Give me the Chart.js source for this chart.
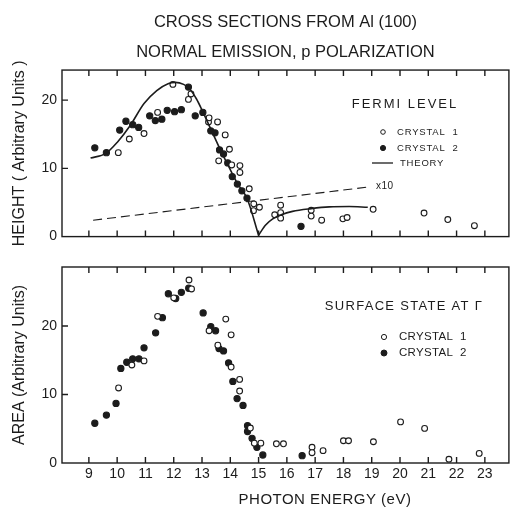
<!DOCTYPE html>
<html><head><meta charset="utf-8">
<script src="https://cdn.jsdelivr.net/npm/chart.js@4.4.0/dist/chart.umd.min.js"></script>
<style>
html,body{margin:0;padding:0;background:#fff;}
#wrap{position:relative;width:514px;height:510px;overflow:hidden;background:#fff;}
#c1{position:absolute;left:0;top:0;}
#c2{position:absolute;left:0;top:250px;}
</style></head><body>
<div id="wrap"><canvas id="c1" width="514" height="250"></canvas><canvas id="c2" width="514" height="260"></canvas></div>
<script>
// ---------- data ----------
const energyTicks = [9,10,11,12,13,14,15,16,17,18,19,20,21,22,23];
const yTickValues = [0,10,20];

// Fermi level height, crystal 1 (open circles)
const fermiC1E = [10.04,10.43,10.95,11.43,11.97,12.52,12.61,13.23,13.25,13.55,13.59,13.82,13.97,14.05,14.34,14.34,14.67,14.82,14.83,15.03,15.57,15.78,15.78,15.78,16.86,16.86,17.23,17.98,18.13,19.05,20.85,21.69,22.63];
const fermiC1H = [12.3,14.3,15.1,18.2,22.3,20.1,20.9,16.8,17.4,16.8,11.1,14.9,12.8,10.5,10.4,9.4,7.0,3.8,4.8,4.3,3.2,4.6,3.5,2.7,3.85,3.0,2.4,2.6,2.8,4.0,3.45,2.5,1.6];
// Fermi level height, crystal 2 (filled circles)
const fermiC2E = [9.21,9.62,10.09,10.31,10.55,10.76,11.15,11.35,11.58,11.77,12.03,12.27,12.52,12.76,13.03,13.31,13.46,13.62,13.76,13.91,14.07,14.25,14.41,14.59,16.5];
const fermiC2H = [13.0,12.3,15.6,16.9,16.4,16.0,17.7,17.0,17.2,18.5,18.3,18.6,21.9,17.7,18.2,15.5,15.2,12.7,12.1,10.8,8.8,7.7,6.7,5.65,1.5];
// Theory curve (two branches meeting in a cusp at 15 eV)
const theoryLeftE = [9.06,9.6,10.0,10.45,10.95,11.4,11.8,12.05,12.35,12.55,12.8,13.05,13.35,13.65,13.95,14.25,14.6,15.0];
const theoryLeftH = [11.5,12.2,13.8,16.2,19.5,21.4,22.4,22.6,22.3,21.7,20.2,18.1,15.4,12.7,10.2,7.8,5.5,0.2];
const theoryRightE = [15.0,15.25,15.5,15.8,16.2,16.86,17.5,18.2,18.86];
const theoryRightH = [0.2,1.7,2.6,3.2,3.7,4.1,4.35,4.4,4.3];
// Theory x10 (dashed)
const theoryX10E = [9.15,18.86];
const theoryX10H = [2.4,7.25];

// Surface state area, crystal 1 (open)
const areaC1E = [10.05,10.52,10.95,11.43,12.0,12.54,12.63,13.25,13.56,13.84,14.03,14.03,14.33,14.33,14.71,14.85,15.08,15.63,15.88,16.89,16.89,17.28,18.0,18.18,19.06,20.02,20.87,21.73,22.8];
const areaC1A = [10.95,14.3,14.9,21.4,24.1,26.7,25.4,19.3,17.2,21.0,18.7,14.0,12.2,10.5,5.1,2.9,2.9,2.8,2.8,2.3,1.5,1.8,3.25,3.25,3.1,6.0,5.05,0.55,1.4];
// Surface state area, crystal 2 (filled)
const areaC2E = [9.21,9.62,9.96,10.13,10.34,10.55,10.77,10.95,11.36,11.6,11.81,12.07,12.27,12.53,13.04,13.31,13.48,13.6,13.76,13.94,14.09,14.24,14.45,14.61,14.61,14.77,14.94,15.15,16.54];
const areaC2A = [5.8,7.0,8.7,13.8,14.7,15.2,15.2,16.8,19.0,21.2,24.7,24.0,24.9,25.5,21.9,19.9,19.3,16.7,16.35,14.6,11.9,9.4,8.4,5.45,4.6,3.6,2.3,1.17,1.07];

// ---------- styling ----------
const FONT = "'Liberation Sans', Arial, sans-serif";
const INK = '#1c1c1c';
const E_MIN = 8.05, E_MAX = 23.85, H_MAX = 24.4, A_MAX = 28.6;

function pts(xs, ys){ return xs.map((x,i)=>({x:x, y:ys[i]})); }

const framePlugin = {
  id:'frame',
  beforeDatasetsDraw(chart){
    const {ctx, chartArea:{left,right,top,bottom}, scales:{x,y}} = chart;
    ctx.save();
    ctx.strokeStyle = INK; ctx.lineWidth = 1.4;
    ctx.strokeRect(left, top, right-left, bottom-top);
    ctx.beginPath();
    energyTicks.forEach(v=>{
      const px = x.getPixelForValue(v);
      ctx.moveTo(px,bottom); ctx.lineTo(px,bottom-6);
      ctx.moveTo(px,top); ctx.lineTo(px,top+6);
    });
    yTickValues.forEach(v=>{
      if (v===0) return;
      const py = y.getPixelForValue(v);
      ctx.moveTo(left,py); ctx.lineTo(left+6,py);
    });
    ctx.stroke();
    ctx.restore();
  }
};

function makeNotes(items){
  return {
    id:'notes',
    afterDraw(chart){
      const ctx = chart.ctx;
      ctx.save();
      items.forEach(it=>{
        if (it.kind==='text'){
          ctx.font = it.size+'px '+FONT;
          ctx.fillStyle = INK;
          ctx.textAlign = it.align||'left';
          ctx.textBaseline = 'middle';
          ctx.letterSpacing = (it.spacing||0)+'px';
          ctx.fillText(it.text, it.x, it.y);
          ctx.letterSpacing = '0px';
        } else if (it.kind==='circle'){
          ctx.beginPath();
          ctx.arc(it.x, it.y, it.r, 0, Math.PI*2);
          ctx.fillStyle = it.fill ? INK : '#fff';
          ctx.fill();
          ctx.lineWidth = 1; ctx.strokeStyle = INK; ctx.stroke();
        } else if (it.kind==='line'){
          ctx.beginPath();
          ctx.moveTo(it.x1, it.y); ctx.lineTo(it.x2, it.y);
          ctx.lineWidth = 1.3; ctx.strokeStyle = INK; ctx.stroke();
        }
      });
      ctx.restore();
    }
  };
}

const notesTop = [
  {kind:'text', text:'FERMI LEVEL', x:405, y:104, size:13, spacing:2, align:'center'},
  {kind:'circle', x:383, y:132, r:2.3, fill:false},
  {kind:'text', text:'CRYSTAL  1', x:397, y:132, size:9.5, spacing:0.8},
  {kind:'circle', x:383, y:148, r:2.6, fill:true},
  {kind:'text', text:'CRYSTAL  2', x:397, y:148, size:9.5, spacing:0.8},
  {kind:'line', x1:372, x2:393, y:163},
  {kind:'text', text:'THEORY', x:400, y:163, size:9.5, spacing:0.8},
  {kind:'text', text:'x10', x:376, y:186, size:10, spacing:0.5}
];
const notesBottom = [
  {kind:'text', text:'SURFACE STATE AT \u0393', x:404, y:56, size:13, spacing:1.3, align:'center'},
  {kind:'circle', x:384, y:87, r:2.6, fill:false},
  {kind:'text', text:'CRYSTAL  1', x:399, y:87, size:11.5, spacing:0.3},
  {kind:'circle', x:384, y:103, r:3, fill:true},
  {kind:'text', text:'CRYSTAL  2', x:399, y:103, size:11.5, spacing:0.3},
  {kind:'text', text:'PHOTON ENERGY (eV)', x:325, y:250, size:15, spacing:0.5, align:'center'}
];

function lineDs(label, data, dash, width){
  return {label:label, data:data, showLine:true, pointRadius:0, borderColor:INK, borderWidth:width,
          borderDash:dash, cubicInterpolationMode:'monotone', fill:false};
}
function ptDs(label, data, filled){
  return {label:label, data:data, showLine:false, pointRadius:filled?3.1:2.9, pointBorderWidth:1.1,
          pointBackgroundColor:filled?INK:'#fff', pointBorderColor:INK, borderColor:INK, backgroundColor:filled?INK:'#fff'};
}
function yAxis(max, title){
  return {
    type:'linear', min:0, max:max,
    afterBuildTicks:a=>{ a.ticks = yTickValues.map(v=>({value:v})); },
    afterFit:a=>{ a.width = 62; },
    grid:{display:false, drawTicks:false}, border:{display:false},
    ticks:{font:{family:FONT,size:14}, color:INK, padding:5},
    title:{display:true, text:title, font:{family:FONT,size:16}, color:INK, padding:{top:10,bottom:0}}
  };
}

new Chart(document.getElementById('c1'), {
  type:'scatter',
  data:{datasets:[
    lineDs('THEORY', pts(theoryLeftE, theoryLeftH), [], 1.6),
    lineDs('THEORY ', pts(theoryRightE, theoryRightH), [], 1.6),
    lineDs('THEORY x10', pts(theoryX10E, theoryX10H), [9,5], 1.1),
    ptDs('CRYSTAL 1', pts(fermiC1E, fermiC1H), false),
    ptDs('CRYSTAL 2', pts(fermiC2E, fermiC2H), true)
  ]},
  options:{
    responsive:false, animation:false, devicePixelRatio:1,
    layout:{padding:{left:0,right:1,top:0,bottom:13}},
    plugins:{
      legend:{display:false}, tooltip:{enabled:false},
      title:{display:true, fullSize:false, text:['CROSS SECTIONS FROM Al (100)','NORMAL EMISSION, p POLARIZATION'],
             font:{family:FONT,size:16.5,weight:'normal',lineHeight:1.82}, color:INK, padding:{top:7,bottom:3}}
    },
    scales:{
      x:{type:'linear', min:E_MIN, max:E_MAX, display:false},
      y:yAxis(H_MAX, 'HEIGHT ( Arbitrary Units )')
    }
  },
  plugins:[framePlugin, makeNotes(notesTop)]
});

new Chart(document.getElementById('c2'), {
  type:'scatter',
  data:{datasets:[
    ptDs('CRYSTAL 1', pts(areaC1E, areaC1A), false),
    ptDs('CRYSTAL 2', pts(areaC2E, areaC2A), true)
  ]},
  options:{
    responsive:false, animation:false, devicePixelRatio:1,
    layout:{padding:{left:0,right:1,top:17,bottom:0}},
    plugins:{legend:{display:false}, tooltip:{enabled:false}},
    scales:{
      x:{type:'linear', min:E_MIN, max:E_MAX,
         afterBuildTicks:a=>{ a.ticks = energyTicks.map(v=>({value:v})); },
         afterFit:a=>{ a.height = 47; },
         grid:{display:false, drawTicks:false}, border:{display:false},
         ticks:{font:{family:FONT,size:14}, color:INK, padding:3, autoSkip:false, maxRotation:0}},
      y:yAxis(A_MAX, 'AREA (Arbitrary Units)')
    }
  },
  plugins:[framePlugin, makeNotes(notesBottom)]
});
</script>
</body></html>
